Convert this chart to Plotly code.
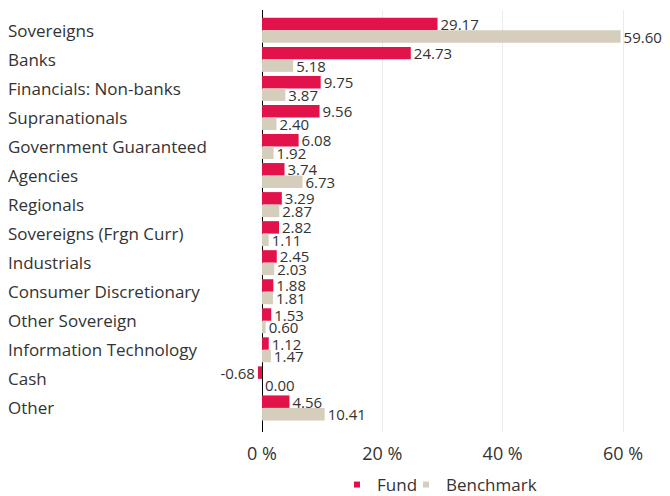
import plotly.graph_objects as go

categories = ["Sovereigns", "Banks", "Financials: Non-banks", "Supranationals",
              "Government Guaranteed", "Agencies", "Regionals", "Sovereigns (Frgn Curr)",
              "Industrials", "Consumer Discretionary", "Other Sovereign",
              "Information Technology", "Cash", "Other"]
fund = [29.17, 24.73, 9.75, 9.56, 6.08, 3.74, 3.29, 2.82, 2.45, 1.88, 1.53, 1.12, -0.68, 4.56]
benchmark = [59.60, 5.18, 3.87, 2.40, 1.92, 6.73, 2.87, 1.11, 2.03, 1.81, 0.60, 1.47, 0.00, 10.41]
tick_vals = [0, 20, 40, 60]
tick_text = ["0 %", "20 %", "40 %", "60 %"]

FUND_C = "#E2134B"
BENCH_C = "#D6CEBC"
FONT = "Open Sans"
TXT = "#333333"

W, H = 670, 496
L, R, T, B = 240, 10, 10, 64
pw = W - L - R

fig = go.Figure()
fig.add_trace(go.Bar(
    y=categories, x=fund, orientation="h", name="Fund", marker_color=FUND_C,
    text=[f"{v:.2f}" for v in fund], textposition="outside", cliponaxis=False,
    constraintext="none",
    textfont=dict(size=15, color=TXT, family=FONT), showlegend=False))
fig.add_trace(go.Bar(
    y=categories, x=benchmark, orientation="h", name="Benchmark", marker_color=BENCH_C,
    text=[f"{v:.2f}" for v in benchmark], textposition="outside", cliponaxis=False,
    constraintext="none",
    textfont=dict(size=15, color=TXT, family=FONT), showlegend=False))
fig.add_trace(go.Scatter(x=[None], y=[None], mode="markers", name="Fund", legend="legend",
                         marker=dict(symbol="square", size=6, color=FUND_C)))
fig.add_trace(go.Scatter(x=[None], y=[None], mode="markers", name="Benchmark", legend="legend2",
                         marker=dict(symbol="square", size=6, color=BENCH_C)))

for cat in categories:
    fig.add_annotation(x=(6 - L) / pw, xref="paper", y=cat, yref="y", text=cat,
                       showarrow=False, xanchor="left", yanchor="middle",
                       font=dict(size=17, color=TXT, family=FONT))

leg_common = dict(orientation="h", xref="container", yref="container",
                  xanchor="left", yanchor="middle", y=1 - 485 / H,
                  font=dict(size=17, color=TXT, family=FONT), itemwidth=30,
                  bgcolor="rgba(0,0,0,0)")
fig.update_layout(
    template="none",
    width=W, height=H,
    margin=dict(l=L, r=R, t=T, b=B, autoexpand=False),
    paper_bgcolor="white", plot_bgcolor="white",
    barmode="group", bargap=0.14, bargroupgap=0,
    font=dict(family=FONT, color=TXT),
    legend=dict(x=(357 - 20) / W, **leg_common),
    legend2=dict(x=(426 - 20) / W, **leg_common),
    showlegend=True,
)
fig.update_xaxes(range=[-3.66, 66.15], tickvals=tick_vals, ticktext=tick_text,
                 automargin=False, ticks="",
                 showgrid=True, gridcolor="#EBEBEB", gridwidth=1,
                 zeroline=True, zerolinecolor="#000000", zerolinewidth=1,
                 ticklabelstandoff=9,
                 tickfont=dict(size=18, color=TXT, family=FONT), showline=False)
fig.update_yaxes(range=[13.83, -0.7], showticklabels=False, showgrid=False,
                 automargin=False, ticks="",
                 zeroline=False, showline=False)

fig.write_html("out.html", config={"displayModeBar": False},
               post_script="document.body.style.margin='0';")
